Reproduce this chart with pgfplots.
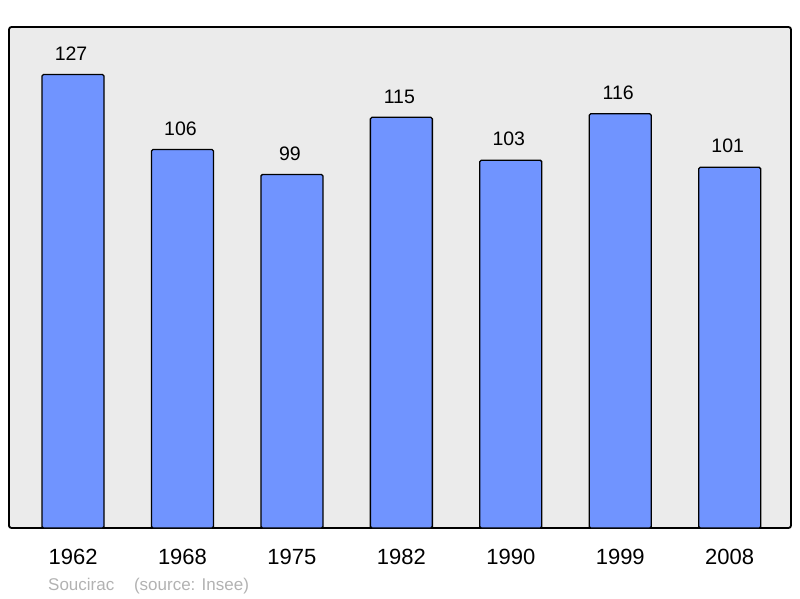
\documentclass[border=0pt]{standalone}
\usepackage{pgfplots}
\pgfplotsset{compat=1.18}
\usepackage{fontspec}
\setmainfont{Liberation Sans}
\definecolor{barblue}{HTML}{7094FF}
\definecolor{bgray}{HTML}{EBEBEB}
\begin{document}
\begin{tikzpicture}
\useasboundingbox (0pt,0pt) rectangle (800pt,598pt);
\begin{axis}[
  at={(9pt,70pt)}, anchor=south west,
  scale only axis, width=782pt, height=501pt,
  xmin=-0.585, xmax=6.56, ymin=0, ymax=140.3,
  axis background/.style={fill=bgray},
  axis line style={line width=1.8pt, rounded corners=2.5pt},
  ybar, bar width=62pt,
  xtick=data, xticklabels={1962,1968,1975,1982,1990,1999,2008},
  xticklabel style={font=\fontsize{22}{22}\selectfont, inner sep=0pt, anchor=north, yshift=-21pt},
  ytick=\empty, major tick length=0pt,
  nodes near coords,
  every node near coord/.append style={font=\fontsize{19.5}{19.5}\selectfont, inner sep=0pt, anchor=south, yshift=13.5pt, xshift=-2pt},
  /pgf/number format/assume math mode=true,
  clip=false,
]
\addplot[fill=barblue, draw=black, line width=1.3pt, rounded corners=1.5pt] coordinates {
(0,127) (1,106) (2,99) (3,115) (4,103) (5,116) (6,101)};
\end{axis}
\node[anchor=base west, inner sep=0pt, text=black!30, font=\fontsize{17}{17}\selectfont] at (48pt,8pt) {Soucirac\hspace{15pt} (source: Insee)};
\end{tikzpicture}
\end{document}
